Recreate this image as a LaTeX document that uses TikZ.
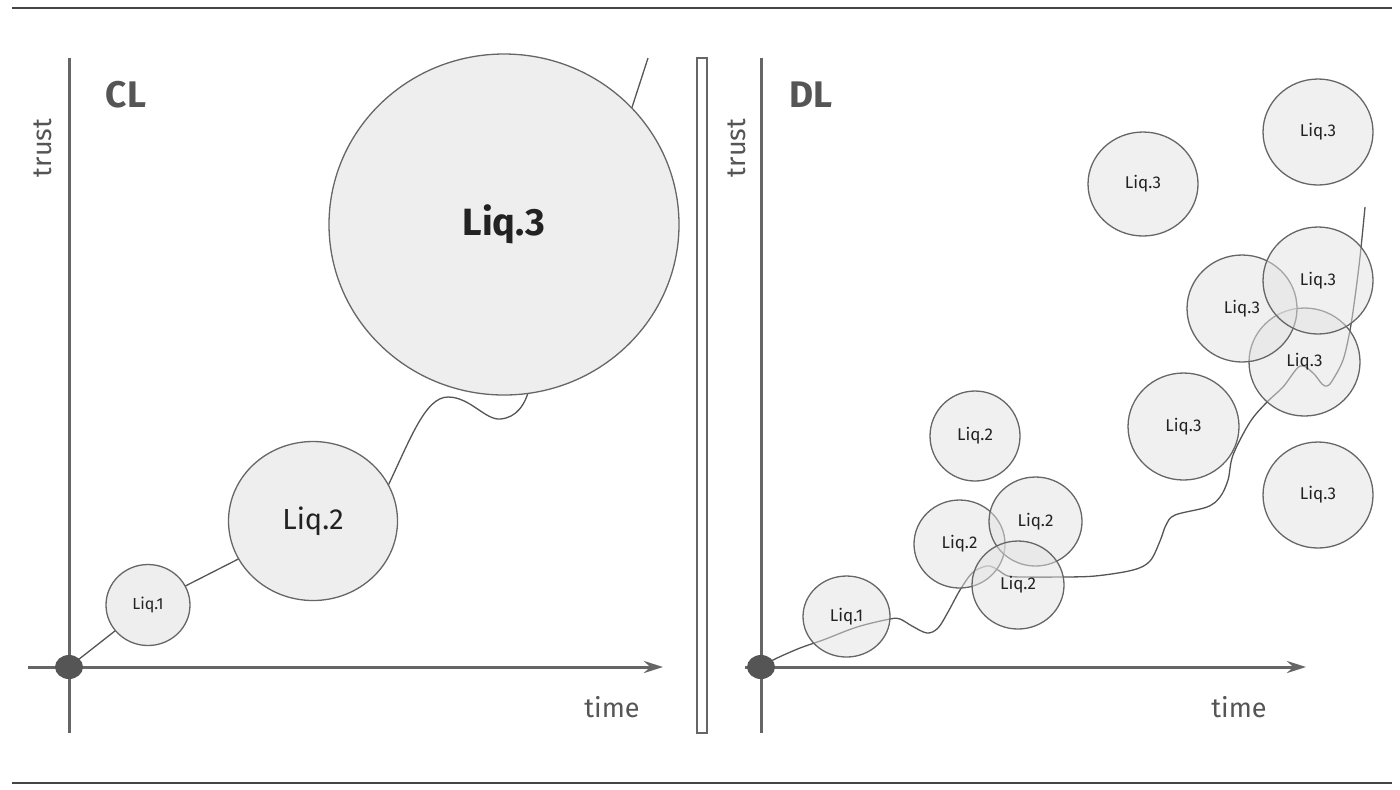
\documentclass[tikz,border=0pt]{standalone}
\usepackage{fontspec}
\setmainfont{Fira Sans}
\usetikzlibrary{arrows.meta,shapes.geometric,backgrounds}
\definecolor{axisc}{HTML}{666666}
\definecolor{dotc}{HTML}{555555}
\definecolor{rulec}{HTML}{444444}
\definecolor{bubc}{HTML}{666666}
\definecolor{connc}{HTML}{555555}
\definecolor{clfill}{HTML}{EEEEEE}
\definecolor{dlfill}{HTML}{E2E2E2}
\definecolor{labc}{HTML}{555555}
\definecolor{txtc}{HTML}{222222}
\begin{document}
\begin{tikzpicture}[x=0.5pt,y=-0.5pt,
  rulel/.style={draw=rulec,line width=1.4pt},
  axisline/.style={draw=axisc,line width=1.5pt},
  arr/.style={-{Stealth[length=9.5pt,width=6pt]}},
  origin/.style={ellipse,fill=dotc,minimum width=14pt,minimum height=12pt,inner sep=0pt},
  bsz/.style 2 args={minimum width=#1pt,minimum height=#2pt},
  clbub/.style={ellipse,draw=bubc,line width=0.65pt,fill=clfill,inner sep=0pt,text=txtc},
  dlbub/.style={ellipse,draw=bubc,line width=0.65pt,fill=dlfill,fill opacity=0.5,text opacity=1,inner sep=0pt,text=txtc,font=\fontsize{8.5}{10}\selectfont},
  conn/.style={draw=connc,line width=0.65pt},
  panel/.style={font=\bfseries\fontsize{18.5}{22}\selectfont,text=labc},
  axlab/.style={font=\fontsize{13.5}{16}\selectfont,text=labc}
]
\useasboundingbox (0,0) rectangle (1400,789);
% rules
\coordinate (rtl) at (12,8); \coordinate (rtr) at (1392,8);
\coordinate (rbl) at (12,783); \coordinate (rbr) at (1392,783);
\draw[rulel] (rtl) -- (rtr);
\draw[rulel] (rbl) -- (rbr);
% divider
\node[draw=axisc,line width=0.6pt,fill=white,minimum width=5pt,minimum height=337.5pt,inner sep=0pt] (div) at (702,395.5) {};

% ---------------- CL panel ----------------
\coordinate (y1t) at (69,58); \coordinate (y1b) at (69,733);
\coordinate (x1l) at (28,667); \coordinate (x1r) at (663,667);
\draw[axisline] (y1b) -- (y1t);
\draw[axisline,arr] (x1l) -- (x1r);
\node[axlab,rotate=90] (tr1) at (43,148) {trust};
\node[axlab] (ti1) at (612,707) {time};
\node[panel] (cl) at (126,95) {CL};
\node[origin] (o1) at (69,667) {};
\node[clbub,bsz={42}{40.5},font=\fontsize{8}{10}\selectfont] (c1) at (148,605) {Liq.1};
\node[clbub,bsz={84.5}{79.5},font=\fontsize{14.5}{17}\selectfont] (c2) at (313,521) {Liq.2};
\node[clbub,bsz={175}{170.5},font=\bfseries\fontsize{19}{22}\selectfont] (c3) at (504,224.5) {Liq.3};
\coordinate (cltop) at (648,58);
\begin{pgfonlayer}{background}
\draw[conn] (o1.center) -- (c1.center) -- (c2.center) -- (386,490)
  .. controls (410,440) and (425,397) .. (448,397)
  .. controls (470,397) and (485,420) .. (500,419)
  .. controls (516,418) and (526,405) .. (530,385) -- (c3.center) -- (624,132) -- (cltop);
\end{pgfonlayer}

% ---------------- DL panel ----------------
\coordinate (y2t) at (761,58); \coordinate (y2b) at (761,733);
\coordinate (x2l) at (745,667); \coordinate (x2r) at (1306,667);
\draw[axisline] (y2b) -- (y2t);
\draw[axisline,arr] (x2l) -- (x2r);
\node[axlab,rotate=90] (tr2) at (737,148) {trust};
\node[axlab] (ti2) at (1239,707) {time};
\node[panel] (dl) at (811,95) {DL};
\node[origin] (o2) at (761,667) {};
\coordinate (dltop) at (1365,207);
\draw[conn] plot[smooth,tension=0.55] coordinates {(o2.center) (775,659) (800,648) (823,640) (857,627) (890,619) (900,619) (912,626) (927,633) (938,628) (948,612) (960,590) (972,573) (983,567) (990,566) (998,570) (1008,576) (1025,577) (1060,577) (1095,576) (1133,570) (1150,561) (1160,541) (1166,525) (1175,515) (1207,507) (1220,497) (1228,480) (1233,455) (1250,422) (1267,402) (1283,387) (1300,366) (1313,373) (1322,384) (1327,386) (1332,381) (1343,360) (1350,330) (1355,297) (1360,257) (dltop)};
\node[dlbub,bsz={43.5}{40.5}] (d1) at (846.5,616.5) {Liq.1};
\node[dlbub,bsz={45}{45}] (d5) at (975,436) {Liq.2};
\node[dlbub,bsz={45.5}{44}] (d2) at (959.5,544) {Liq.2};
\node[dlbub,bsz={46.5}{44.5}] (d3) at (1035.5,521.5) {Liq.2};
\node[dlbub,bsz={46}{44}] (d4) at (1018,585) {Liq.2};
\node[dlbub,bsz={55}{52}] (d6) at (1143,184) {Liq.3};
\node[dlbub,bsz={55}{53}] (d7) at (1318,132) {Liq.3};
\node[dlbub,bsz={55.5}{53.5}] (d8) at (1183.5,426.5) {Liq.3};
\node[dlbub,bsz={55}{53}] (d9) at (1318,495) {Liq.3};
\node[dlbub,bsz={55.5}{54}] (d12) at (1304.5,362) {Liq.3};
\node[dlbub,bsz={55}{53.5}] (d10) at (1242,308.5) {Liq.3};
\node[dlbub,bsz={55}{53.5}] (d11) at (1318,280.5) {Liq.3};
\end{tikzpicture}
\end{document}
